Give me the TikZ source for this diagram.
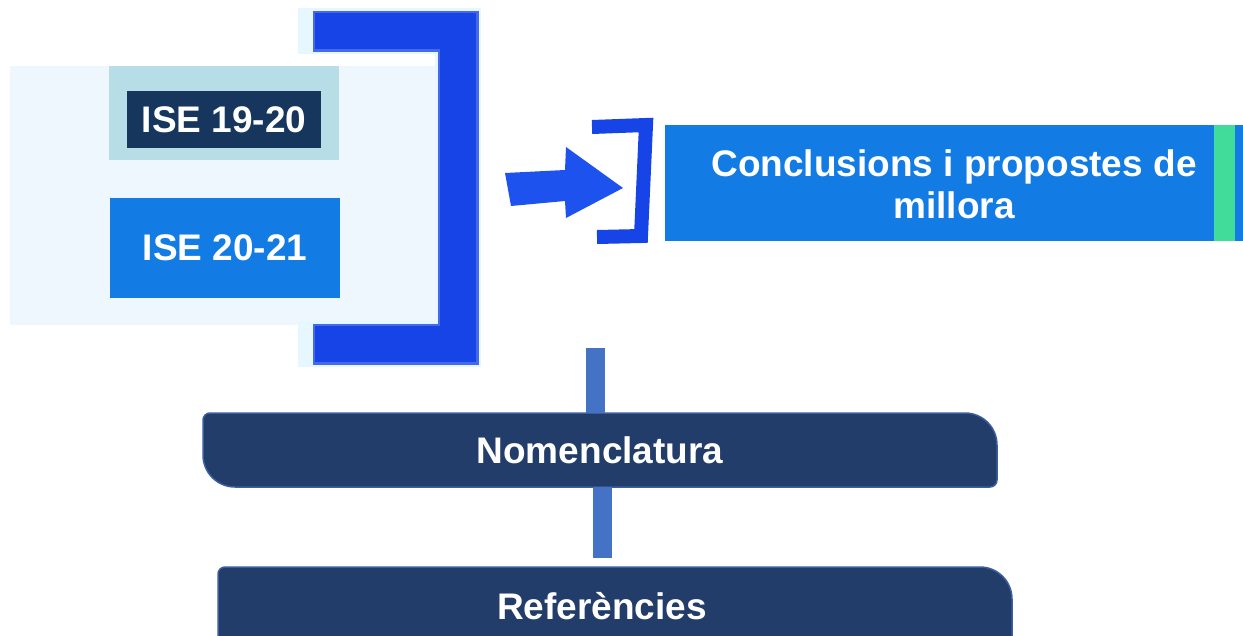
\documentclass[tikz,border=0pt]{standalone}
\usepackage{fontspec}
\setmainfont{Liberation Sans}
\begin{document}
\begin{tikzpicture}[x=1pt,y=-1pt,
  txt/.style={text=white,font=\bfseries\fontsize{37}{42}\selectfont,align=center,inner sep=0},
  conn/.style={draw=connblue,line width=19},
  navbox/.style={fill=navy,draw=navyedge,line width=1.5}]
\definecolor{panel}{HTML}{EEF6FE}
\definecolor{lightbox}{HTML}{B7DDE7}
\definecolor{darkbox}{HTML}{17365D}
\definecolor{midblue}{HTML}{127CE4}
\definecolor{greenstrip}{HTML}{41DC9A}
\definecolor{navy}{HTML}{233D6B}
\definecolor{navyedge}{HTML}{3B5E9E}
\definecolor{connblue}{HTML}{4472C4}
\definecolor{brk}{HTML}{1744E6}
\definecolor{glow}{HTML}{E6F7FF}
\definecolor{arrowblue}{HTML}{1E52EE}
\useasboundingbox (0,0) rectangle (1243,635);
\clip (0,0) rectangle (1243,635);
% left panel
\fill[panel] (10,66) rectangle (440,325);
% big bracket
\draw[glow,line width=46,line join=miter] (298,31) -- (458,31) -- (458,344) -- (298,344);
\draw[brk!80!white,line width=41,line join=miter] (313,31) -- (458,31) -- (458,344) -- (313,344);
\draw[brk,line width=36,line join=miter] (315,31) -- (458,31) -- (458,344) -- (315,344);
% ISE 19-20
\fill[lightbox] (109,66) rectangle (339,160);
\node[txt,fill=darkbox,minimum width=194,minimum height=57] (ise1) at (224,119.5) {ISE 19-20};
% ISE 20-21
\node[txt,fill=midblue,minimum width=230,minimum height=100] (ise2) at (225,248) {ISE 20-21};
% arrow
\fill[arrowblue] (505,173) -- (565,170) -- (566,147) -- (623,188) -- (566,218) -- (565,201) -- (511,206) -- cycle;
% small bracket
\draw[brk,line width=14,line join=miter] (592,127) -- (646,125) -- (641,236) -- (597,237);
% conclusions
\node[txt,fill=midblue,minimum width=549,minimum height=116,anchor=north west] (conc) at (665,125) {};
\node[txt] (conct) at (954,184) {Conclusions i propostes de\\millora};
\fill[greenstrip] (1214,125) rectangle (1235,241);
\fill[midblue] (1235,125) rectangle (1243,241);
% Nomenclatura
\draw[navbox] (203,420) [rounded corners=7] -- (203,413) [rounded corners=32] -- (997,413) [rounded corners=7] -- (997,487) [rounded corners=32] -- (203,487) -- (203,420);
\node[txt,minimum width=794,minimum height=74] (nom) at (600,450) {Nomenclatura};
% Referencies
\draw[navbox] (218,575) [rounded corners=7] -- (218,567) [rounded corners=32] -- (1012,567) -- (1012,680) -- (218,680) -- (218,575);
\node[txt,minimum width=794,minimum height=74] (ref) at (602,606) {Referències};
% connectors
\coordinate (c1) at (595.5,348);
\coordinate (c2) at (602.5,558);
\draw[conn] (c1) -- (c1 |- nom.north);
\draw[conn] (c2 |- nom.south) -- (c2);
\end{tikzpicture}
\end{document}
